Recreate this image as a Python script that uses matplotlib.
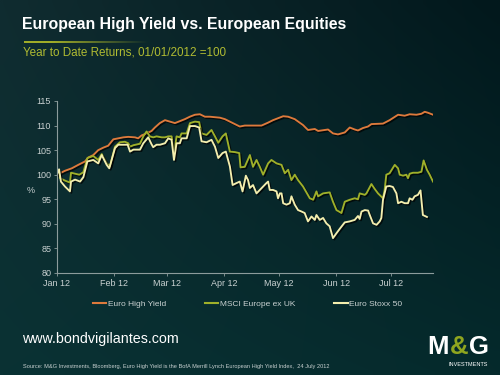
import numpy as np
import matplotlib
matplotlib.use('Agg')
import matplotlib.pyplot as plt
import matplotlib.patheffects as pe

# days since 01/01/2012 and index level (01/01/2012 = 100)
hy_days = [0, 1.8, 4.5, 8.2, 11.7, 15.4, 17.2, 19.9, 22.6, 25.3, 28, 30.8, 33.5, 36.2, 38.9,
           42.6, 44.3, 46.2, 48.9, 51.6, 53.4, 56.1, 58.9, 61.6, 64.3, 67, 69.7, 72.4, 75.2,
           77.9, 80.6, 83.3, 88.8, 91.5, 94.2, 96.9, 99.6, 102.3, 105.1, 111.4, 115, 117.7,
           123.2, 125.9, 129.5, 134, 136.7, 140.4, 142.2, 147.6, 150.3, 153, 156.7, 159.4,
           162.1, 163.9, 166.6, 169.3, 171.2, 177.5, 181.1, 185.7, 189.3, 192, 195.7, 198.4,
           200.2, 202, 204.7]
hy_vals = [100, 100.3, 100.8, 101.3, 102.0, 102.7, 103.5, 104.0, 105.0, 105.5, 105.9, 107.2,
           107.4, 107.6, 107.7, 107.6, 107.4, 108.0, 108.4, 108.9, 109.6, 110.5, 111.1, 110.8,
           110.5, 110.9, 111.3, 111.8, 112.2, 112.3, 111.8, 111.8, 111.6, 111.3, 110.8, 110.3,
           109.8, 110.0, 110.0, 110.0, 110.6, 111.1, 111.9, 111.8, 111.3, 110.1, 109.1, 109.3,
           108.9, 109.2, 108.4, 108.2, 108.6, 109.6, 109.2, 109.0, 109.5, 109.8, 110.3, 110.4,
           111.1, 112.2, 112.0, 112.3, 112.2, 112.4, 112.8, 112.6, 112.2]

msci_days = [0, 1.1, 1.8, 4.5, 7.2, 7.8, 10, 12.3, 14.5, 16.7, 19.9, 22.6, 24.5, 27.2, 29,
             31.7, 34.4, 37.1, 38.9, 39.9, 41.7, 45.3, 47.1, 48.9, 50.7, 52.5, 54.3, 57.1,
             58.9, 60.7, 62.5, 63.8, 65.2, 67, 67.9, 70.7, 72.5, 75.2, 77.5, 78.8, 81.5, 84.2,
             86.1, 87.9, 90.2, 92, 94.2, 96.9, 99.3, 100, 102.3, 105.1, 106.8, 108.7, 110.5,
             112.3, 115, 116.8, 119.6, 122.3, 124.1, 125.9, 127.7, 129.5, 131.3, 134, 137.7,
             139.5, 141.3, 142.2, 144.9, 148.5, 150.3, 152.2, 154.9, 156.7, 159.4, 162.1,
             163.9, 164.8, 167.6, 168.5, 171.2, 173, 174.8, 177.5, 178.4, 179.3, 181.1, 183.9,
             185.7, 186.6, 188.4, 190.2, 191.1, 192, 193.8, 196.5, 198.4, 199.6, 201.4, 202.9,
             204.7]
msci_vals = [100, 100.8, 99.3, 98.8, 98.4, 100.4, 100.2, 100, 100.5, 103.4, 103.8, 103, 104.2,
             102.3, 101.7, 105.7, 106.6, 106.7, 106.4, 105.7, 106, 106.3, 107.8, 108.8, 107.8,
             107.6, 107.8, 107.6, 107.6, 107.8, 107.8, 104.2, 107.8, 107.6, 108.4, 108.4,
             110.5, 110.8, 110.7, 108.4, 108.1, 109.1, 107.8, 106.5, 107.8, 108.4, 104.7,
             104.6, 104.4, 101.5, 101.6, 104.0, 101.6, 103.0, 101.6, 100.0, 102.3, 103.0,
             102.3, 102.0, 100.3, 101.0, 98.9, 100, 98.9, 97.6, 95.2, 94.9, 96.6, 95.6, 96.2,
             96.4, 94.5, 92.8, 92.2, 94.5, 94.9, 95.2, 95.0, 96.2, 95.9, 96.2, 98.1, 97.1,
             96.2, 95.2, 96.9, 100, 100.3, 102.0, 101.3, 100, 99.8, 100, 99.3, 100.2, 100.4,
             100.4, 100.6, 102.9, 101.0, 100, 98.6]

stoxx_days = [0, 1.3, 2.3, 4.5, 7.2, 7.8, 10, 12.7, 14.5, 16.7, 19.9, 22.6, 24.5, 27.2, 28.6,
              31.7, 33.5, 37.1, 38.6, 39.9, 41.7, 45.3, 47.1, 49.8, 51.6, 52.5, 54.3, 56.2,
              58.9, 60.7, 62.5, 63.8, 65.2, 67, 67.9, 70.7, 72.5, 75.2, 77.5, 78.8, 81.5, 84.2,
              86.1, 87.9, 90.2, 92, 94.2, 95.7, 97.8, 99.6, 101.1, 102.9, 104.1, 105.1, 106.8,
              108.7, 110.5, 112.3, 114.1, 115, 115.9, 117.7, 119.6, 120.4, 121.4, 122.3, 123.2,
              125, 126.8, 127.7, 129.5, 131.3, 133.2, 134.9, 136.7, 138.6, 140.4, 141.3, 143.1,
              144.9, 146.7, 148.5, 150.3, 152.2, 154, 156.7, 159.4, 162.1, 163.9, 164.8, 165.8,
              167.6, 169.4, 170.3, 172.1, 174, 175.7, 176.6, 177.5, 179.3, 181.1, 182.9, 184.8,
              185.7, 187.5, 189.3, 191.1, 192, 193.5, 194.7, 196.5, 197.9, 199.2, 201.4]
stoxx_vals = [100, 101.1, 98.6, 97.6, 96.6, 98.6, 99, 98.6, 99.5, 102.7, 103, 102.3, 104, 102,
              101.3, 105.4, 106.1, 106.1, 106.1, 104.7, 105.1, 105.1, 106.4, 107.6, 106.2,
              105.6, 106.1, 106.1, 106.4, 107.4, 107.1, 103.0, 106.4, 106.4, 107.4, 107.4,
              109.9, 109.9, 109.6, 106.8, 106.6, 107.1, 105.7, 103.4, 104.4, 104.7, 101.7, 97.9,
              98.3, 98.6, 96.6, 99.8, 98.9, 97.3, 97.9, 96.2, 96.9, 97.6, 98.3, 98.6, 96.9, 96.9,
              96.6, 95.2, 96.2, 96.2, 94.2, 93.9, 94.2, 95.6, 93.9, 92.8, 92.5, 92.2, 90.5, 91.5,
              90.8, 91.8, 90.8, 91.2, 90.1, 89.5, 87.1, 88.1, 89.0, 90.3, 90.5, 90.8, 91.6, 91.0,
              92.5, 92.8, 92.7, 91.8, 90.1, 89.8, 90.5, 91.2, 94.9, 97.6, 97.7, 97.5, 96.2, 94.2,
              94.5, 94.2, 94.2, 95.2, 94.9, 95.6, 95.9, 96.8, 91.8, 91.4]

month_ticks = [0, 31, 60, 91, 121, 152, 182]
month_labels = ['Jan 12', 'Feb 12', 'Mar 12', 'Apr 12', 'May 12', 'Jun 12', 'Jul 12']
y_ticks = [80, 85, 90, 95, 100, 105, 110, 115]

FONT = 'Liberation Sans'
GREY = '#c9d1d1'


def draw_background(fig):
    bg = fig.add_axes([0, 0, 1, 1], zorder=-10)
    ny, nx = 60, 80
    yy, xx = np.mgrid[0:1:ny * 1j, 0:1:nx * 1j]
    top_left = np.array([16, 44, 48]) / 255.
    top_right = np.array([2, 24, 28]) / 255.
    bot_left = np.array([10, 50, 52]) / 255.
    bot_right = np.array([5, 42, 44]) / 255.
    img = ((1 - xx)[..., None] * (1 - yy)[..., None] * top_left
           + xx[..., None] * (1 - yy)[..., None] * top_right
           + (1 - xx)[..., None] * yy[..., None] * bot_left
           + xx[..., None] * yy[..., None] * bot_right)
    bg.imshow(img, aspect='auto', extent=[0, 1, 0, 1], origin='upper', interpolation='bilinear')
    bg.set_xlim(0, 1)
    bg.set_ylim(0, 1)
    bg.axis('off')


def draw_chart(fig):
    ax = fig.add_axes([0.1134, 0.272, 0.7526, 0.4587])
    ax.patch.set_alpha(0)
    shadow = [pe.SimpleLineShadow(offset=(1, -1), shadow_color='black', alpha=0.7), pe.Normal()]
    l1, = ax.plot(hy_days, hy_vals, color='#de7a3c', lw=1.35, path_effects=shadow)
    l2, = ax.plot(msci_days, msci_vals, color='#9fb02a', lw=1.35, path_effects=shadow)
    l3, = ax.plot(stoxx_days, stoxx_vals, color='#f3eeae', lw=1.35, path_effects=shadow)

    ax.set_xlim(0, 204.7)
    ax.set_ylim(80, 115)
    ax.set_xticks(month_ticks)
    ax.set_xticklabels(month_labels)
    ax.set_yticks(y_ticks)
    for s in ['top', 'right']:
        ax.spines[s].set_visible(False)
    for s in ['left', 'bottom']:
        ax.spines[s].set_color('#8c9c9c')
        ax.spines[s].set_linewidth(0.8)
    ax.tick_params(colors='#8c9c9c', labelcolor=GREY, labelsize=6.5, length=2, width=0.6, pad=2)
    for lab in ax.get_xticklabels() + ax.get_yticklabels():
        lab.set_fontfamily(FONT)

    fig.text(0.062, 0.493, '%', color=GREY, fontsize=6.5, family=FONT, ha='center', va='center')

    leg = fig.legend([l1, l2, l3], ['Euro High Yield', 'MSCI Europe ex UK', 'Euro Stoxx 50'],
                     loc='center', bbox_to_anchor=(0.495, 0.189), ncol=3, frameon=False,
                     handlelength=1.6, handletextpad=0.15, columnspacing=4.7,
                     prop={'family': FONT, 'size': 6})
    for t in leg.get_texts():
        t.set_color(GREY)
    for h in leg.legend_handles:
        h.set_path_effects([])
        h.set_linewidth(1.5)


def draw_text(fig):
    fig.text(0.044, 0.922, 'European High Yield vs. European Equities', color='white',
             fontsize=11.45, fontweight='bold', family=FONT, va='baseline')
    # short olive rule under the title, fading to the right
    rule = fig.add_axes([0.048, 0.886, 0.25, 0.0055])
    grad = np.zeros((1, 100, 4))
    grad[..., 0] = 160 / 255.
    grad[..., 1] = 172 / 255.
    grad[..., 2] = 40 / 255.
    grad[..., 3] = np.clip(np.linspace(1.3, 0, 100), 0, 1)
    rule.imshow(grad, aspect='auto', interpolation='bilinear')
    rule.axis('off')
    fig.text(0.046, 0.853, 'Year to Date Returns, 01/01/2012 =100', color='#b0bb32',
             fontsize=8.4, family=FONT, va='baseline')

    fig.text(0.044, 0.086, 'www.bondvigilantes.com', color='white', fontsize=10.3,
             family=FONT, va='baseline')
    fig.text(0.046, 0.019, 'Source: M&G Investments, Bloomberg, Euro High Yield is the BofA '
             'Merrill Lynch European High Yield Index,  24 July 2012', color=GREY,
             fontsize=4.05, family=FONT, va='baseline')

    # M&G logo
    fig.text(0.855, 0.056, 'M', color='white', fontsize=18.5, fontweight='bold', family=FONT,
             va='baseline')
    fig.text(0.900, 0.056, '&', color='#8fa51f', fontsize=18.5, fontweight='bold', family=FONT,
             va='baseline')
    fig.text(0.938, 0.056, 'G', color='white', fontsize=18.5, fontweight='bold', family=FONT,
             va='baseline')
    fig.text(0.975, 0.024, 'INVESTMENTS', color='white', fontsize=4, family=FONT,
             ha='right', va='baseline')


def main():
    fig = plt.figure(figsize=(5, 3.75), dpi=100)
    draw_background(fig)
    draw_chart(fig)
    draw_text(fig)
    fig.savefig('out.png', dpi=100)


if __name__ == "__main__":
    main()
